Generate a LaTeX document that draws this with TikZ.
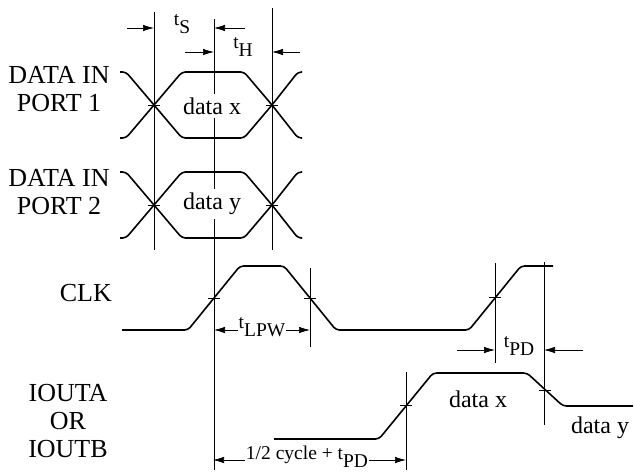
\documentclass[tikz,border=0pt]{standalone}
\usepackage{fontspec}
\setmainfont{LiberationSerif}[Extension=.ttf,UprightFont=*-Regular,BoldFont=*-Bold]
\usepackage{tikz}
\usetikzlibrary{arrows.meta}
\newcommand{\tsub}[1]{t\raisebox{-0.42em}{#1}}

\begin{document}
\begin{tikzpicture}[x=1pt,y=-1pt,
    wave/.style={line width=1.6pt,rounded corners=3.5pt},
    guide/.style={line width=0.7pt},
    dim/.style={line width=0.7pt,-{Latex[length=11pt,width=6.5pt]}},
    sig/.style={font=\fontsize{26}{28}\selectfont,align=center,inner sep=0pt},
    val/.style={font=\fontsize{24}{26}\selectfont,inner xsep=1pt,inner ysep=4pt},
    tim/.style={font=\fontsize{19.5}{22}\selectfont,inner sep=1pt}]
  \useasboundingbox (0,0) rectangle (634,475);
  % guide lines
  \draw[guide] (154,12) -- (154,250);
  \draw[guide] (272,8) -- (272,250);
  \draw[guide] (214,19) -- (214,470);
  \draw[guide] (310,268) -- (310,347);
  \draw[guide] (495,263) -- (495,363);
  \draw[guide] (544,262) -- (544,425);
  \draw[guide] (406,372) -- (406,470);
  % data in eyes
  \foreach \m in {105,205} {
    \draw[wave] (120,\m-33) -- (126,\m-33) -- (154,\m) -- (182,\m+33)
          -- (244,\m+33) -- (272,\m) -- (298,\m-33) -- (302,\m-33);
    \draw[wave] (120,\m+33) -- (126,\m+33) -- (154,\m) -- (182,\m-33)
          -- (244,\m-33) -- (272,\m) -- (298,\m+33) -- (302,\m+33);
  }
  % clk
  \draw[wave] (122,330) -- (188,330) -- (240,266) -- (284,266) -- (336,330)
        -- (469,330) -- (521,266) -- (553,266);
  % iout
  \draw[wave] (274,439) -- (379,439) -- (433,373) -- (527,373) -- (563,406)
        -- (633,406);
  % crossing ticks
  \foreach \x/\y in {154/105,272/105,154/205,272/205,214/298,310/298,
                     495/297,406/405,545/390}
    \draw[guide] (\x-6,\y) -- (\x+6,\y);
  % signal names
  \node[sig] (din1) at (59,89) {DATA IN\\PORT 1};
  \node[sig] (din2) at (59,192) {DATA IN\\PORT 2};
  \node[sig,anchor=east] (clk) at (112,293) {CLK};
  \node[sig] (iout) at (68,421) {IOUTA\\OR\\IOUTB};
  % values
  \node[val,fill=white] (dx) at (212,106) {data x};
  \node[val,fill=white] (dy) at (212,204) {data y};
  \node[val] (ox) at (478,399) {data x};
  \node[val] (oy) at (600,428) {data y};
  % timing
  \node[tim] (ts) at (182,24) {\tsub{S}};
  \draw[dim] (127,28) -- (154,28);
  \draw[dim] (245,28) -- (214,28);
  \node[tim] (th) at (243,47) {\tsub{H}};
  \draw[dim] (185,52) -- (214,52);
  \draw[dim] (300,52) -- (272,52);
  \node[tim] (lpw) at (262,327) {\tsub{LPW}};
  \draw[dim] (lpw.west |- 0,330) -- (214,330);
  \draw[dim] (lpw.east |- 0,330) -- (310,330);
  \node[tim] (pd) at (519,346) {\tsub{PD}};
  \draw[dim] (457,350) -- (495,350);
  \draw[dim] (583,350) -- (544,350);
  \node[tim] (half) at (307,457) {1/2 cycle + \tsub{PD}};
  \draw[dim] (half.west |- 0,460) -- (213,460);
  \draw[dim] (half.east |- 0,460) -- (406,460);
\end{tikzpicture}
\end{document}
